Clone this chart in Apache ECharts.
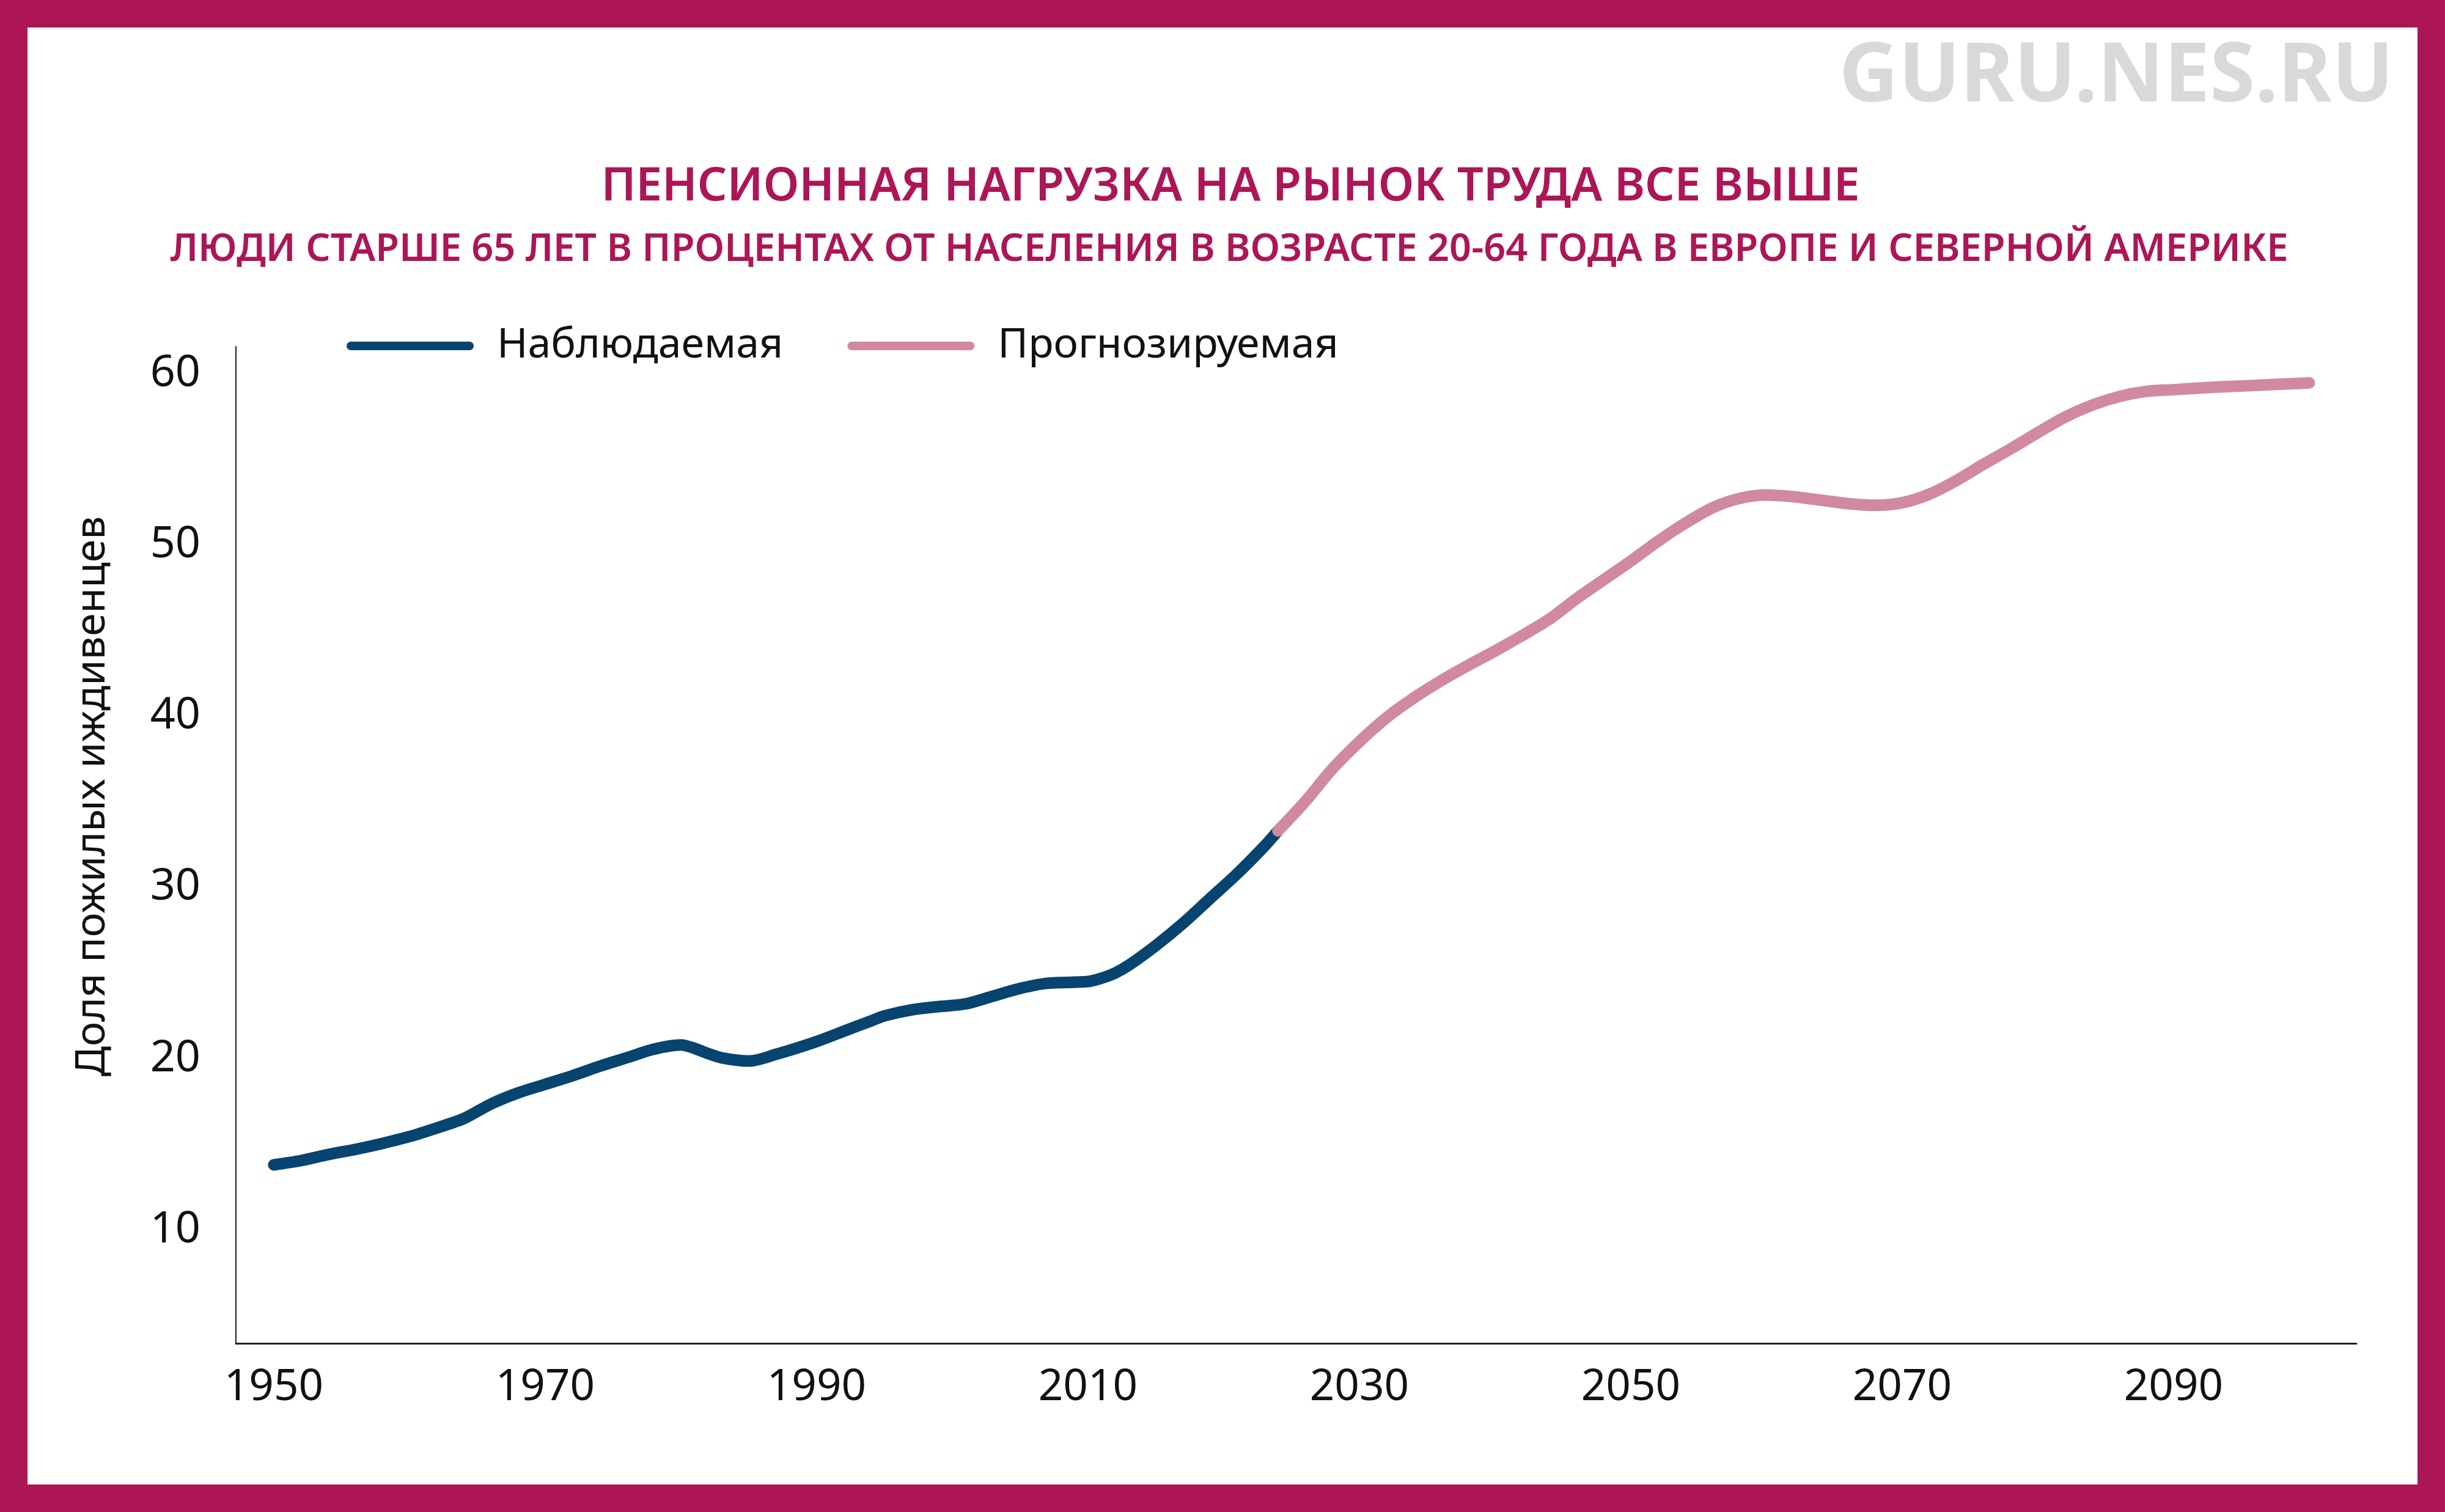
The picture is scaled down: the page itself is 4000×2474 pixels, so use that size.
<!DOCTYPE html>
<html>
<head>
<meta charset="utf-8">
<title>Пенсионная нагрузка</title>
<script src="https://cdn.jsdelivr.net/npm/echarts@6.0.0/dist/echarts.min.js"></script>
<style>
  html, body { margin: 0; padding: 0; background: #ffffff; }
  #chart { width: 4000px; height: 2474px; }
</style>
</head>
<body>
<div id="chart"></div>
<script>
// наблюдаемые значения
const obsYears = [1950, 1952, 1954, 1956, 1958, 1960, 1962, 1964, 1966, 1968, 1970, 1972, 1974, 1976, 1978, 1980, 1981, 1982, 1983, 1985, 1987, 1990, 1992, 1994, 1995, 1997, 1999, 2001, 2003, 2005, 2007, 2010, 2011, 2012, 2013, 2015, 2017, 2019, 2021, 2023, 2024];
const obsValues = [13.8, 14.05, 14.4, 14.7, 15.05, 15.45, 15.95, 16.5, 17.35, 18.0, 18.5, 19.0, 19.55, 20.05, 20.55, 20.8, 20.6, 20.3, 20.05, 19.86, 20.25, 21.0, 21.6, 22.2, 22.5, 22.85, 23.04, 23.2, 23.65, 24.1, 24.4, 24.5, 24.7, 25.0, 25.45, 26.6, 27.9, 29.35, 30.8, 32.4, 33.3];

// прогноз
const projYears = [2024, 2026, 2028, 2030, 2032, 2034, 2036, 2038, 2040, 2042, 2044, 2046, 2048, 2050, 2052, 2054, 2056, 2058, 2060, 2062, 2064, 2066, 2068, 2070, 2072, 2074, 2076, 2078, 2080, 2082, 2084, 2086, 2088, 2090, 2093, 2096, 2100];
const projValues = [33.3, 35.0, 36.9, 38.5, 39.9, 41.05, 42.05, 42.95, 43.8, 44.7, 45.65, 46.85, 47.95, 49.05, 50.2, 51.25, 52.15, 52.7, 52.9, 52.8, 52.6, 52.4, 52.3, 52.45, 52.95, 53.75, 54.7, 55.6, 56.55, 57.45, 58.15, 58.65, 58.95, 59.05, 59.2, 59.3, 59.45];

const yearTicks = [1950, 1970, 1990, 2010, 2030, 2050, 2070, 2090];
const shareTicks = [10, 20, 30, 40, 50, 60];

const seriesNames = ['Наблюдаемая', 'Прогнозируемая'];

const FONT = '"Noto Sans", "Open Sans", sans-serif';
const MAGENTA = '#AD1656';
const BLUE = '#07446F';
const PINK = '#D1899F';

function zip(xs, ys) {
  return xs.map(function (x, i) { return [x, ys[i]]; });
}

let chart = echarts.init(document.getElementById('chart'), null, {width: 4000, height: 2474});

let option = {
  backgroundColor: '#ffffff',
  animation: false,
  textStyle: {fontFamily: FONT},
  title: [
    {
      text: 'ПЕНСИОННАЯ НАГРУЗКА НА РЫНОК ТРУДА ВСЕ ВЫШЕ',
      left: 2013,
      top: 268,
      textAlign: 'center',
      padding: 0,
      textStyle: {color: MAGENTA, fontSize: 76, fontWeight: 600, fontFamily: FONT, lineHeight: 76}
    },
    {
      text: 'ЛЮДИ СТАРШЕ 65 ЛЕТ В ПРОЦЕНТАХ ОТ НАСЕЛЕНИЯ В ВОЗРАСТЕ 20-64 ГОДА В ЕВРОПЕ И СЕВЕРНОЙ АМЕРИКЕ',
      left: 2011,
      top: 378,
      textAlign: 'center',
      padding: 0,
      textStyle: {color: MAGENTA, fontSize: 63, fontWeight: 600, fontFamily: FONT, lineHeight: 63}
    }
  ],
  legend: {
    data: seriesNames,
    left: 567,
    top: 532,
    padding: 0,
    itemWidth: 208,
    itemHeight: 14,
    itemGap: 105,
    icon: 'path://M7,0 L201,0 A7,7 0 0 1 201,14 L7,14 A7,7 0 0 1 7,0 Z',
    textStyle: {color: '#111111', fontSize: 68, fontFamily: FONT, padding: [0, 0, 0, 33]}
  },
  grid: {
    left: 386,
    right: 145,
    top: 567,
    bottom: 276,
    containLabel: false
  },
  xAxis: {
    type: 'value',
    min: 1947.21,
    max: 2103.47,
    axisLine: {show: true, onZero: false, lineStyle: {color: '#222222', width: 3}},
    axisTick: {show: false},
    splitLine: {show: false},
    axisLabel: {
      customValues: yearTicks,
      formatter: function (value) { return String(value); },
      margin: 37,
      color: '#111111',
      fontSize: 71,
      fontFamily: FONT
    }
  },
  yAxis: {
    type: 'value',
    min: 3.382,
    max: 61.57,
    axisLine: {show: true, lineStyle: {color: '#222222', width: 2}},
    axisTick: {show: false},
    splitLine: {show: false},
    axisLabel: {
      customValues: shareTicks,
      margin: 58,
      color: '#111111',
      fontSize: 72,
      fontFamily: FONT
    }
  },
  graphic: [
    {
      type: 'rect',
      silent: true,
      z: 100,
      shape: {x: 0, y: 0, width: 4000, height: 2474},
      style: {fill: 'none', stroke: MAGENTA, lineWidth: 90}
    },
    {
      type: 'text',
      x: 3916,
      y: 128,
      style: {
        text: 'GURU.NES.RU',
        fill: '#D9D9D9',
        font: 'bold 134px ' + FONT,
        textAlign: 'right',
        textVerticalAlign: 'middle'
      }
    },
    {
      // подпись оси Y
      type: 'text',
      x: 152,
      y: 1303,
      rotation: Math.PI / 2,
      style: {
        text: 'Доля пожилых иждивенцев',
        fill: '#111111',
        font: '68px ' + FONT,
        textAlign: 'center',
        textVerticalAlign: 'middle'
      }
    }
  ],
  series: [
    {
      name: seriesNames[0],
      type: 'line',
      data: zip(obsYears, obsValues),
      smooth: 0.3,
      symbol: 'none',
      itemStyle: {color: BLUE},
      lineStyle: {color: BLUE, width: 19, cap: 'round', join: 'round'}
    },
    {
      name: seriesNames[1],
      type: 'line',
      data: zip(projYears, projValues),
      smooth: 0.3,
      symbol: 'none',
      itemStyle: {color: PINK},
      lineStyle: {color: PINK, width: 19, cap: 'round', join: 'round'}
    }
  ]
};

chart.setOption(option);
</script>
</body>
</html>
